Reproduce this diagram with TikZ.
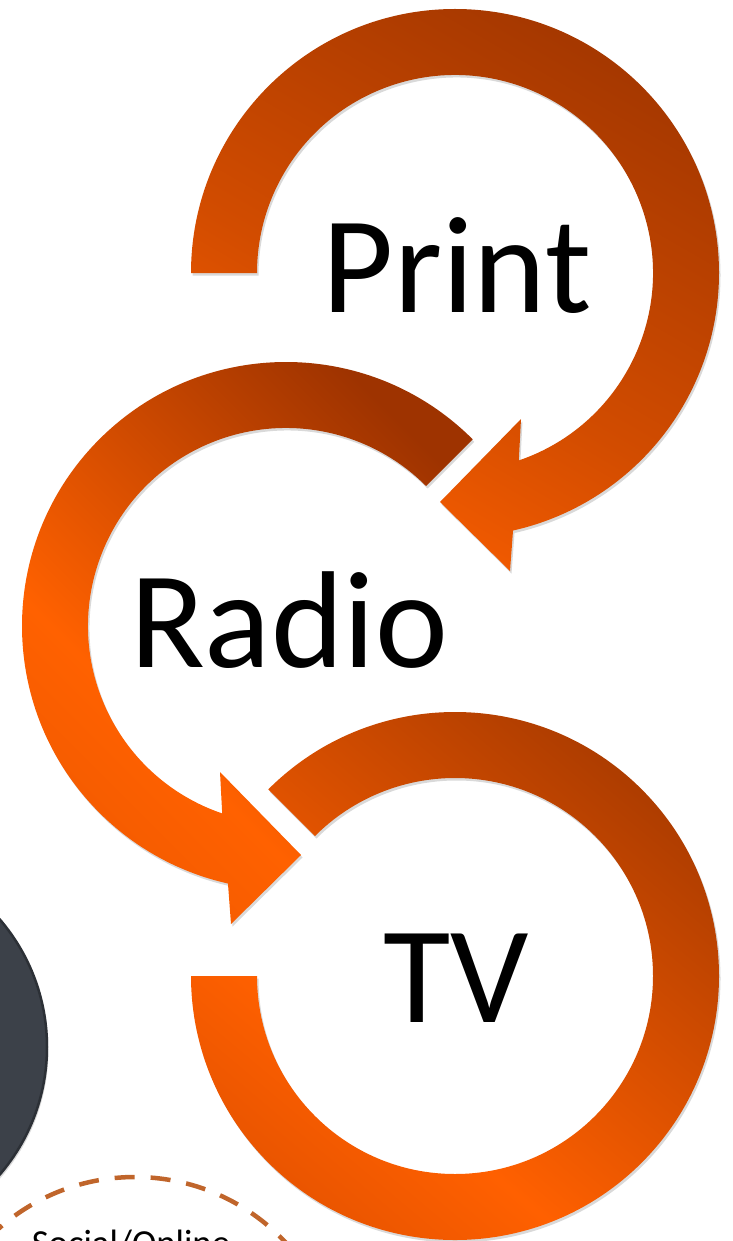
\documentclass[tikz,border=0pt]{standalone}
\usepackage{fontspec}
\setmainfont{Carlito}
\usetikzlibrary{shadows}
\definecolor{pA}{HTML}{FA5E00}
\definecolor{pB}{HTML}{D24C00}
\definecolor{pC}{HTML}{A63800}
\definecolor{rA}{HTML}{F25A00}
\definecolor{rB}{HTML}{FF6100}
\definecolor{rC}{HTML}{9E3300}
\definecolor{tA}{HTML}{E85400}
\definecolor{tB}{HTML}{FF6000}
\definecolor{tC}{HTML}{A83A00}
\definecolor{darkdisc}{HTML}{3C4149}
\definecolor{darkrim}{HTML}{2C3036}
\definecolor{dashcol}{HTML}{C0652B}
\pgfdeclareverticalshading{printshade}{100bp}{color(0bp)=(pA); color(25bp)=(pA); color(45bp)=(pB); color(75bp)=(pC); color(100bp)=(pC)}
\pgfdeclareverticalshading{radioshade}{100bp}{color(0bp)=(rA); color(25bp)=(rA); color(38bp)=(rB); color(75bp)=(rC); color(100bp)=(rC)}
\pgfdeclareverticalshading{tvshade}{100bp}{color(0bp)=(tA); color(25bp)=(tA); color(38bp)=(tB); color(75bp)=(tC); color(100bp)=(tC)}
\tikzset{
  band/.style={drop shadow={shadow xshift=1.5pt, shadow yshift=-2.5pt, opacity=0.15, fill=black}},
  biglbl/.style={inner sep=0pt, anchor=base, font=\fontsize{138}{138}\selectfont},
  smalllbl/.style={inner sep=0pt, anchor=base, font=\fontsize{36.7}{40}\selectfont},
}
\begin{document}
\begin{tikzpicture}[x=1pt, y=1pt]
\useasboundingbox (0,0) rectangle (732,-1241);
\clip (0,0) rectangle (732,-1241);
% dark disc at left
\fill[darkdisc, draw=darkrim, line width=2.5pt, band] (-149,-1047) circle[radius=196];
% dashed circle
\draw[dashcol, line width=4.5pt, dash pattern=on 20pt off 16pt] (135,-1383) circle[radius=206];
\node[smalllbl] (social) at (131,-1255) {Social/Online};
% Print arrow
\begin{scope}[shift={(455,-273)}]
\shade[shading=printshade, shading angle=-30, band]
  (180:264) arc[start angle=180, end angle=-77.3, radius=264]
  -- (55,-298) -- (-15,-229) -- (66,-146) -- (-71.2:198)
  arc[start angle=-71.2, end angle=180, radius=198] -- cycle;
\end{scope}
% Radio arrow
\begin{scope}[shift={(286,-626)}]
\shade[shading=radioshade, shading angle=-45, band]
  (45:264) arc[start angle=45, end angle=257.3, radius=264]
  -- (-55,-298) -- (15,-229) -- (-66,-146) -- (251.2:198)
  arc[start angle=251.2, end angle=45, radius=198] -- cycle;
\end{scope}
% TV ring
\begin{scope}[shift={(455,-976)}]
\shade[shading=tvshade, shading angle=-40, band]
  (135:264) arc[start angle=135, end angle=-180, radius=264]
  -- (180:198) arc[start angle=180, end angle=495, radius=198] -- cycle;
\end{scope}
\node[biglbl] (print) at (457,-312) {Print};
\node[biglbl] (radio) at (289,-667) {Radio};
\node[biglbl] (tv) at (456,-1022) {TV};
\end{tikzpicture}
\end{document}
